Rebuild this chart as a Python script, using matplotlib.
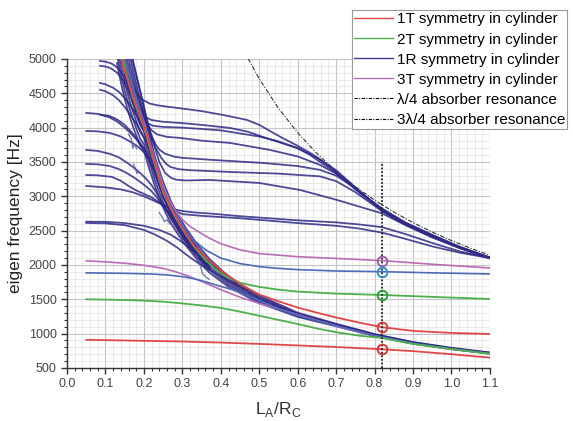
import matplotlib
matplotlib.use("Agg")
import matplotlib.pyplot as plt
from matplotlib.ticker import MultipleLocator
from matplotlib.lines import Line2D

plt.rcParams['font.family'] = ['Liberation Sans', 'DejaVu Sans']

# ---------------- data ----------------
# 1T symmetry (red)
red_low_x = [0.05, 0.2, 0.3, 0.4, 0.5, 0.6, 0.7, 0.82, 0.9, 1.0, 1.1]
red_low_f = [910, 895, 885, 870, 850, 828, 805, 772, 745, 700, 650]
red_up_x = [0.14, 0.17, 0.2, 0.225, 0.25, 0.275, 0.3, 0.33, 0.36, 0.4, 0.45, 0.5, 0.55, 0.6, 0.65, 0.7, 0.76, 0.82, 0.9, 1.0, 1.1]
red_up_f = [5000, 4470, 4020, 3540, 3070, 2770, 2530, 2280, 2110, 1920, 1720, 1570, 1470, 1380, 1305, 1235, 1160, 1093, 1040, 1010, 995]

# 2T symmetry (green)
green_low_x = [0.05, 0.15, 0.2, 0.25, 0.3, 0.35, 0.4, 0.45, 0.5, 0.55, 0.6, 0.65, 0.7, 0.76, 0.82, 0.9, 1.0, 1.1]
green_low_f = [1500, 1490, 1480, 1465, 1440, 1410, 1374, 1320, 1260, 1200, 1140, 1075, 1020, 970, 937, 850, 775, 705]
green_up_x = [0.145, 0.17, 0.2, 0.225, 0.25, 0.275, 0.3, 0.33, 0.36, 0.39, 0.42, 0.45, 0.5, 0.55, 0.6, 0.7, 0.82, 0.95, 1.1]
green_up_f = [5000, 4450, 4000, 3520, 3050, 2760, 2520, 2270, 2070, 1920, 1810, 1740, 1680, 1640, 1612, 1582, 1563, 1535, 1505]

# 3T symmetry (purple)
purple_low_x = [0.05, 0.1, 0.15, 0.2, 0.25, 0.28, 0.31, 0.35, 0.4, 0.45, 0.5, 0.55, 0.6, 0.7, 0.8, 0.9, 1.0, 1.1]
purple_low_f = [2060, 2045, 2025, 1995, 1950, 1905, 1850, 1760, 1640, 1530, 1440, 1360, 1275, 1112, 966, 852, 773, 710]
purple_up_x = [0.15, 0.175, 0.2, 0.225, 0.25, 0.265, 0.28, 0.3, 0.32, 0.346, 0.37, 0.4, 0.45, 0.5, 0.6, 0.7, 0.82, 0.95, 1.1]
purple_up_f = [5000, 4500, 4080, 3600, 3150, 2950, 2810, 2660, 2560, 2470, 2390, 2310, 2220, 2165, 2120, 2095, 2063, 2010, 1956]

# 1R symmetry (lighter blue): separate modes near 1900 Hz
blue_up_x = [0.15, 0.175, 0.2, 0.225, 0.25, 0.27, 0.29, 0.31, 0.33, 0.36, 0.4, 0.45, 0.5, 0.55, 0.6, 0.7, 0.82, 0.95, 1.1]
blue_up_f = [5000, 4520, 4050, 3560, 3100, 2850, 2650, 2490, 2360, 2220, 2100, 2020, 1975, 1950, 1932, 1912, 1902, 1885, 1869]
blue_low_x = [0.05, 0.15, 0.22, 0.26, 0.3, 0.33, 0.36, 0.39, 0.432, 0.47, 0.5, 0.55, 0.6, 0.7, 0.8, 0.9, 1.0, 1.1]
blue_low_f = [1885, 1878, 1868, 1855, 1830, 1800, 1755, 1705, 1636, 1550, 1485, 1360, 1265, 1115, 970, 858, 777, 713]

# 1R: dense band following the lambda/4 absorber resonance
band_x = [0.13, 0.14, 0.15, 0.16, 0.17, 0.18, 0.19, 0.2, 0.215, 0.23, 0.25, 0.27, 0.29, 0.31, 0.34, 0.37,
          0.42, 0.5, 0.6, 0.7, 0.8, 0.9, 1.0, 1.1]
band1_f = [5550, 5270, 5020, 4790, 4590, 4410, 4240, 4140, 3830, 3550, 3210, 2930, 2710, 2530, 2290, 2090, 1830, 1555, 1305, 1143, 994, 878, 793, 725]
band2_f = [5420, 5140, 4900, 4675, 4480, 4305, 4140, 4045, 3740, 3465, 3135, 2865, 2655, 2480, 2245, 2050, 1800, 1532, 1292, 1135, 988, 873, 789, 721]
band3_f = [5300, 5020, 4780, 4560, 4370, 4200, 4040, 3950, 3650, 3380, 3060, 2800, 2600, 2430, 2200, 2010, 1770, 1510, 1280, 1128, 982, 868, 785, 718]
band4_f = [5180, 4900, 4660, 4445, 4260, 4095, 3940, 3855, 3560, 3295, 2985, 2735, 2545, 2380, 2155, 1970, 1740, 1488, 1268, 1121, 976, 863, 781, 715]
band5_f = [5060, 4780, 4540, 4330, 4150, 3990, 3840, 3760, 3470, 3210, 2910, 2670, 2490, 2330, 2110, 1930, 1710, 1466, 1256, 1114, 970, 858, 777, 712]
band6_f = [4940, 4660, 4420, 4215, 4040, 3885, 3740, 3665, 3380, 3125, 2835, 2605, 2435, 2280, 2065, 1890, 1680, 1444, 1244, 1107, 964, 853, 773, 709]

# 1R: curves from the left that dive into the band
la_x = [0.086, 0.1, 0.115, 0.125, 0.135, 0.145, 0.155, 0.17, 0.185, 0.2, 0.225, 0.25, 0.275, 0.3, 0.33, 0.37]
la_f = [4970, 4960, 4935, 4900, 4850, 4770, 4650, 4450, 4220, 3990, 3500, 3040, 2740, 2490, 2240, 1990]
lb_x = [0.086, 0.1, 0.115, 0.13, 0.14, 0.15, 0.16, 0.175, 0.19, 0.205, 0.225, 0.25, 0.275, 0.3, 0.33, 0.37]
lb_f = [4900, 4890, 4860, 4800, 4730, 4640, 4520, 4330, 4130, 3900, 3480, 3020, 2730, 2470, 2230, 1980]
lc_x = [0.086, 0.1, 0.12, 0.135, 0.15, 0.165, 0.18, 0.195, 0.21, 0.23, 0.25, 0.275, 0.3, 0.33, 0.37]
lc_f = [4650, 4630, 4580, 4520, 4430, 4320, 4180, 4020, 3800, 3420, 3010, 2720, 2460, 2220, 1975]
ld_x = [0.086, 0.1, 0.12, 0.135, 0.15, 0.165, 0.18, 0.195, 0.21, 0.23, 0.25, 0.275, 0.3, 0.33, 0.37]
ld_f = [4550, 4530, 4470, 4400, 4300, 4180, 4060, 3920, 3740, 3380, 3000, 2710, 2450, 2210, 1970]
le_x = [0.05, 0.08, 0.11, 0.13, 0.15, 0.165, 0.18, 0.195, 0.21, 0.225, 0.24, 0.26, 0.28, 0.3, 0.33, 0.37]
le_f = [4214, 4200, 4150, 4090, 4000, 3920, 3830, 3720, 3580, 3390, 3170, 2900, 2660, 2440, 2200, 1965]
le2_x = [0.086, 0.11, 0.13, 0.15, 0.17, 0.185, 0.2, 0.215, 0.23, 0.245, 0.26, 0.28, 0.3, 0.33, 0.37]
le2_f = [4190, 4170, 4120, 4040, 3920, 3820, 3700, 3550, 3350, 3120, 2890, 2650, 2430, 2195, 1960]
lf_x = [0.05, 0.08, 0.112, 0.14, 0.16, 0.172, 0.185, 0.2, 0.215, 0.23, 0.245, 0.26, 0.28, 0.3, 0.33, 0.37]
lf_f = [3951, 3945, 3922, 3870, 3810, 3770, 3720, 3640, 3520, 3330, 3110, 2880, 2640, 2420, 2190, 1955]
lg_x = [0.05, 0.08, 0.112, 0.135, 0.156, 0.175, 0.19, 0.205, 0.22, 0.235, 0.25, 0.265, 0.28, 0.3, 0.33, 0.37]
lg_f = [3675, 3660, 3617, 3565, 3490, 3410, 3340, 3260, 3160, 3030, 2890, 2750, 2620, 2410, 2180, 1950]
lh_x = [0.05, 0.08, 0.11, 0.133, 0.155, 0.175, 0.195, 0.215, 0.23, 0.245, 0.26, 0.275, 0.29, 0.31, 0.34, 0.37]
lh_f = [3471, 3465, 3442, 3400, 3340, 3270, 3190, 3100, 3010, 2900, 2780, 2650, 2520, 2350, 2140, 1945]
li_x = [0.05, 0.08, 0.117, 0.14, 0.16, 0.18, 0.2, 0.22, 0.24, 0.255, 0.27, 0.285, 0.3, 0.32, 0.345, 0.37]
li_f = [3310, 3305, 3282, 3225, 3150, 3085, 3035, 2985, 2910, 2830, 2720, 2580, 2430, 2260, 2080, 1940]
lj1_x = [0.05, 0.1, 0.15, 0.2, 0.24, 0.27, 0.295, 0.315, 0.335, 0.355, 0.38, 0.41, 0.44, 0.47]
lj1_f = [2630, 2628, 2610, 2570, 2510, 2440, 2350, 2260, 2170, 2090, 2010, 1880, 1760, 1640]
lj2_x = [0.05, 0.1, 0.15, 0.2, 0.23, 0.26, 0.285, 0.31, 0.335, 0.36, 0.39, 0.42, 0.45]
lj2_f = [2612, 2605, 2580, 2510, 2440, 2350, 2260, 2150, 2050, 1960, 1870, 1770, 1680]

# 1R: short tracking hooks near the band
hook1_x = [0.16, 0.167, 0.171, 0.175, 0.181]
hook1_f = [3900, 3840, 3700, 3760, 3690]
hook2_x = [0.173, 0.178, 0.182, 0.187]
hook2_f = [3470, 3400, 3330, 3360]
hook3_x = [0.24, 0.247, 0.253, 0.26, 0.267]
hook3_f = [2760, 2700, 2630, 2660, 2600]
hook4_x = [0.335, 0.345, 0.352, 0.36, 0.37]
hook4_f = [2150, 2030, 1880, 1830, 1790]

# 1R: plateau curves right of the band, merging into the 3lambda/4 line
r1_x = [0.14, 0.155, 0.17, 0.18, 0.19, 0.2, 0.215, 0.235, 0.26, 0.294, 0.35, 0.406, 0.468, 0.5, 0.528, 0.56,
        0.598, 0.63, 0.658, 0.69, 0.72, 0.77, 0.82, 0.88, 0.95, 1.02, 1.1]
r1_f = [5000, 4800, 4620, 4510, 4440, 4395, 4350, 4325, 4305, 4282, 4240, 4184, 4112, 4040, 3950, 3850,
        3740, 3640, 3540, 3400, 3250, 3020, 2820, 2620, 2440, 2270, 2110]
r2_x = [0.145, 0.16, 0.175, 0.185, 0.195, 0.205, 0.22, 0.25, 0.294, 0.35, 0.424, 0.47, 0.51, 0.55, 0.598,
        0.63, 0.658, 0.69, 0.72, 0.77, 0.82, 0.88, 0.95, 1.02, 1.1]
r2_f = [5000, 4720, 4480, 4330, 4220, 4150, 4110, 4085, 4068, 4040, 3995, 3940, 3864, 3790, 3704,
        3610, 3500, 3380, 3240, 3010, 2810, 2610, 2430, 2260, 2105]
r3_x = [0.15, 0.165, 0.18, 0.19, 0.2, 0.21, 0.225, 0.25, 0.3, 0.4, 0.5, 0.55, 0.6, 0.65, 0.7, 0.76, 0.82,
        0.88, 0.95, 1.02, 1.1]
r3_f = [5000, 4700, 4420, 4250, 4130, 4060, 4025, 4010, 4000, 3960, 3870, 3800, 3700, 3560, 3380, 3080, 2800,
        2600, 2420, 2255, 2100]
r4_x = [0.155, 0.17, 0.185, 0.2, 0.21, 0.22, 0.235, 0.26, 0.294, 0.35, 0.424, 0.528, 0.6, 0.658, 0.7, 0.75,
        0.82, 0.88, 0.95, 1.02, 1.1]
r4_f = [5000, 4680, 4400, 4170, 4040, 3960, 3900, 3865, 3850, 3810, 3777, 3675, 3580, 3456, 3330, 3120,
        2790, 2590, 2410, 2250, 2100]
r5_x = [0.16, 0.18, 0.2, 0.215, 0.23, 0.24, 0.255, 0.28, 0.3, 0.38, 0.51, 0.6, 0.658, 0.7, 0.75, 0.82,
        0.88, 0.95, 1.02, 1.1]
r5_f = [5000, 4550, 4200, 3950, 3760, 3680, 3620, 3575, 3560, 3529, 3485, 3440, 3384, 3300, 3120, 2800,
        2600, 2420, 2255, 2105]
r6_x = [0.165, 0.19, 0.21, 0.23, 0.245, 0.258, 0.27, 0.29, 0.32, 0.424, 0.55, 0.658, 0.7, 0.75, 0.82, 0.88,
        0.95, 1.02, 1.1]
r6_f = [5000, 4400, 4000, 3710, 3560, 3470, 3425, 3395, 3380, 3354, 3330, 3290, 3220, 3060, 2780, 2590,
        2410, 2250, 2100]
r7_x = [0.17, 0.2, 0.22, 0.24, 0.255, 0.27, 0.285, 0.31, 0.37, 0.5, 0.606, 0.7, 0.76, 0.82, 0.88, 0.95,
        1.02, 1.1]
r7_f = [5000, 4300, 3850, 3500, 3340, 3270, 3240, 3230, 3238, 3194, 3092, 2950, 2850, 2750, 2580, 2400,
        2250, 2100]
r8_x = [0.05, 0.1, 0.14, 0.17, 0.2, 0.22, 0.24, 0.26, 0.28, 0.3, 0.33, 0.37, 0.45, 0.5, 0.6, 0.7, 0.76,
        0.82, 0.88, 0.95, 1.02, 1.1]
r8_f = [3150, 3130, 3100, 3060, 3000, 2950, 2900, 2850, 2810, 2785, 2765, 2750, 2710, 2690, 2650, 2620, 2590,
        2550, 2450, 2320, 2200, 2100]
r9_x = [0.17, 0.2, 0.23, 0.25, 0.265, 0.28, 0.3, 0.35, 0.45, 0.6, 0.7, 0.76, 0.82, 0.88, 0.95, 1.02, 1.1]
r9_f = [5000, 4300, 3500, 3100, 2900, 2790, 2740, 2715, 2680, 2610, 2570, 2530, 2470, 2380, 2270, 2180, 2100]

# absorber resonances
lam4_x = [0.15, 0.175, 0.2, 0.225, 0.25, 0.275, 0.3, 0.35, 0.4, 0.45, 0.5, 0.6, 0.7, 0.8, 0.9, 1.0, 1.1]
lam4_f = [4780, 4280, 3950, 3500, 3060, 2750, 2520, 2160, 1890, 1680, 1510, 1280, 1128, 985, 870, 787, 718]
lam34_x = [0.46, 0.5, 0.55, 0.6, 0.65, 0.7, 0.75, 0.8, 0.85, 0.9, 0.95, 1.0, 1.05, 1.1]
lam34_f = [5120, 4710, 4282, 3925, 3623, 3364, 3140, 2944, 2771, 2617, 2479, 2355, 2243, 2141]

# marked eigenfrequencies at L_A/R_C = 0.82
mark_x = 0.82
mark_f = [2063, 1902, 1563, 1093, 772]
mark_colors = ['#9b62a8', '#2f8fd0', '#2e9e3e', '#d43a3a', '#d43a3a']
vline_f = [500, 3500]

labels = ['1T symmetry in cylinder', '2T symmetry in cylinder', '1R symmetry in cylinder',
          '3T symmetry in cylinder', '\u03bb/4 absorber resonance', '3\u03bb/4 absorber resonance']

# ---------------- drawing ----------------
C_RED = '#e04848'
C_GREEN = '#4cb04c'
C_BLUE = '#2f2a86'
C_BLUE_L = '#4f6bb8'
C_PURPLE = '#b86cb8'
DASHDOT = (0, (4, 1.5, 1, 1.5))

fig = plt.figure(figsize=(5.73, 4.21), dpi=100)
ax = fig.add_axes([0.117, 0.126, 0.738, 0.734])

ax.plot(lam4_x, lam4_f, color='black', lw=0.8, ls=DASHDOT, zorder=2)
ax.plot(lam34_x, lam34_f, color='#333333', lw=0.8, ls=DASHDOT, zorder=2)

blue_curves = [(band_x, band1_f), (band_x, band2_f), (band_x, band3_f), (band_x, band4_f),
               (band_x, band5_f), (band_x, band6_f),
               (la_x, la_f), (lb_x, lb_f), (lc_x, lc_f), (ld_x, ld_f), (le_x, le_f), (le2_x, le2_f),
               (lf_x, lf_f), (lg_x, lg_f), (lh_x, lh_f), (li_x, li_f), (lj1_x, lj1_f), (lj2_x, lj2_f),
               (r1_x, r1_f), (r2_x, r2_f), (r3_x, r3_f), (r4_x, r4_f), (r5_x, r5_f), (r6_x, r6_f),
               (r7_x, r7_f), (r8_x, r8_f), (r9_x, r9_f)]
for cx, cf in blue_curves:
    ax.plot(cx, cf, color=C_BLUE, lw=1.3, alpha=0.85, zorder=3)
for cx, cf in [(hook1_x, hook1_f), (hook2_x, hook2_f), (hook3_x, hook3_f), (hook4_x, hook4_f)]:
    ax.plot(cx, cf, color='#5a58a8', lw=1.0, alpha=0.8, zorder=3)

ax.plot(purple_low_x, purple_low_f, color=C_PURPLE, lw=1.2, zorder=3)
ax.plot(purple_up_x, purple_up_f, color=C_PURPLE, lw=1.2, zorder=4)
ax.plot(blue_low_x, blue_low_f, color=C_BLUE_L, lw=1.2, zorder=3)
ax.plot(blue_up_x, blue_up_f, color=C_BLUE_L, lw=1.2, zorder=4)
ax.plot(green_low_x, green_low_f, color=C_GREEN, lw=1.3, zorder=4)
ax.plot(green_up_x, green_up_f, color=C_GREEN, lw=1.3, zorder=4)
ax.plot(red_low_x, red_low_f, color=C_RED, lw=1.3, zorder=4)
ax.plot(red_up_x, red_up_f, color=C_RED, lw=1.3, zorder=4)

ax.plot([mark_x, mark_x], vline_f, color='#222222', lw=1.3, ls=(0, (1, 1)), zorder=5)
for f, c in zip(mark_f, mark_colors):
    ax.plot([mark_x], [f], marker='o', ms=7, mfc='none', mec=c, mew=1.4, zorder=6)

ax.set_xlim(0.0, 1.1)
ax.set_ylim(500, 5000)
ax.xaxis.set_minor_locator(MultipleLocator(0.02))
ax.yaxis.set_major_locator(MultipleLocator(500))
ax.yaxis.set_minor_locator(MultipleLocator(100))
ax.set_xticks([i / 10 for i in range(12)])
ax.set_xticklabels(['%.1f' % (i / 10) for i in range(12)])
ax.grid(which='major', color='#c4c4c4', lw=0.8)
ax.grid(which='minor', color='#e2e2e2', lw=0.5)
ax.set_axisbelow(True)
for s in ['top', 'right']:
    ax.spines[s].set_visible(False)
for s in ['left', 'bottom']:
    ax.spines[s].set_color('#333333')
    ax.spines[s].set_linewidth(1.0)
ax.tick_params(which='major', direction='out', length=4, width=1.0, colors='#333333',
               labelsize=9, labelcolor='#444444')
ax.tick_params(which='minor', direction='out', length=2.5, width=0.8, colors='#333333')
ax.set_ylabel('eigen frequency [Hz]', fontsize=12.5, color='#222222', labelpad=4)
ax.set_xlabel(r'L$_\mathregular{A}$/R$_\mathregular{C}$', fontsize=12.5, color='#333333', labelpad=7)

handles = [Line2D([], [], color=C_RED, lw=1.0),
           Line2D([], [], color=C_GREEN, lw=1.0),
           Line2D([], [], color='#3a3a8a', lw=1.0),
           Line2D([], [], color=C_PURPLE, lw=1.0),
           Line2D([], [], color='black', lw=0.8, ls=(0, (3, 1.2, 1, 1.2))),
           Line2D([], [], color='black', lw=0.8, ls=(0, (3, 1.2, 1, 1.2)))]
leg = fig.legend(handles, labels, loc='upper right', bbox_to_anchor=(0.99, 0.976),
                 fontsize=11, frameon=True, fancybox=False, framealpha=1, edgecolor='#999999',
                 handlelength=2.55, handletextpad=0.25, labelspacing=0.4, borderpad=0.15,
                 borderaxespad=0)
leg.get_frame().set_linewidth(0.8)

fig.savefig('out.png', dpi=100)
